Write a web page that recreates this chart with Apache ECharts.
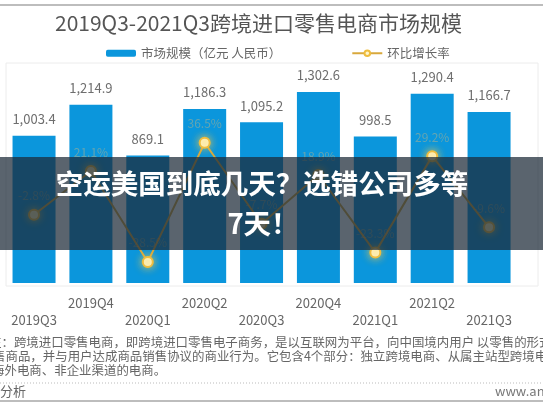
<!DOCTYPE html>
<html>
<head>
<meta charset="utf-8">
<script src="https://cdn.jsdelivr.net/npm/echarts@6/dist/echarts.min.js"></script>
<style>
html,body{margin:0;padding:0;background:#fff;}
#c{width:543px;height:408px;}
</style>
</head>
<body>
<div id="c"></div>
<script>
var categories = ['2019Q3','2019Q4','2020Q1','2020Q2','2020Q3','2020Q4','2021Q1','2021Q2','2021Q3'];
var marketSize = [1003.4, 1214.9, 869.1, 1186.3, 1095.2, 1302.6, 998.5, 1290.4, 1166.7];
var growthRate = [-2.8, 21.1, -28.5, 36.5, -7.7, 18.9, -23.3, 29.2, -9.6];
var titleText = '2019Q3-2021Q3跨境进口零售电商市场规模';
var seriesNames = ['市场规模（亿元 人民币）', '环比增长率'];
var bannerLines = ['空运美国到底几天？选错公司多等', '7天！'];
var noteLines = [
  '注：跨境进口零售电商，即跨境进口零售电子商务，是以互联网为平台，向中国境内用户 以零售的形式销',
  '售商品，并与用户达成商品销售协议的商业行为。它包含4个部分：独立跨境电商、从属主站型跨境电商',
  '海外电商、非企业渠道的电商。'
];
var sourceLeft = '易观分析';
var sourceRight = 'www.analysys.cn';

var FONT = '"Noto Sans CJK SC", "Noto Sans", sans-serif';
var chart = echarts.init(document.getElementById('c'));
chart.setOption({
  animation: false,
  textStyle: { fontFamily: FONT },
  title: {
    text: titleText, left: 50, top: 8,
    textStyle: { fontSize: 21, fontWeight: 'normal', color: '#555', fontFamily: FONT }
  },
  legend: {
    top: 42, left: 101, itemGap: 70, itemWidth: 30, itemHeight: 7,
    textStyle: { fontSize: 12.5, color: '#666', fontFamily: FONT },
    data: [seriesNames[0], seriesNames[1]]
  },
  grid: { left: 5.6, right: 25.5, top: 63, bottom: 125, containLabel: false },
  xAxis: {
    type: 'category', data: categories,
    axisLine: { show: false }, axisTick: { show: false },
    axisLabel: {
      interval: 0, margin: 12, fontSize: 13, color: '#666', lineHeight: 17,
      formatter: function (v, i) { return i % 2 === 0 ? '\n' + v : v; }
    }
  },
  yAxis: [
    { type: 'value', min: 0, max: 1500, show: false, splitLine: { show: false } },
    { type: 'value', min: -40, max: 80, show: false, splitLine: { show: false } }
  ],
  series: [
    {
      name: seriesNames[0], type: 'bar', data: marketSize, barWidth: 43,
      itemStyle: { color: '#0b96dc' },
      label: {
        show: true, position: 'top', distance: 10, fontSize: 13, color: '#6e6e6e',
        formatter: function (p) { return p.value.toLocaleString('en-US', { minimumFractionDigits: 1 }); }
      }
    },
    {
      name: seriesNames[1], type: 'line', yAxisIndex: 1, data: growthRate,
      lineStyle: { color: '#d8a83c', width: 2 },
      symbol: 'circle', symbolSize: 10,
      itemStyle: { color: '#fff6cc', borderColor: '#efbd3e', borderWidth: 2, shadowBlur: 8, shadowColor: 'rgba(245,200,70,0.9)' },
      label: {
        show: true, position: 'top', distance: 7, fontSize: 12, color: 'rgba(225,185,120,0.42)',
        formatter: function (p) { return p.value.toFixed(1) + '%'; }
      },
      z: 5
    }
  ],
  graphic: [
    { type: 'rect', shape: { x: 0, y: 4, width: 543, height: 2 }, style: { fill: '#bdbdbd' }, z: 1 },
    { type: 'rect', shape: { x: 6, y: 63, width: 532, height: 223 }, style: { fill: 'none', stroke: '#ececec', lineWidth: 1 }, z: 0 },
    { type: 'text', x: -11, y: 342, style: { text: noteLines[0], fill: '#666', font: '12.45px ' + FONT, verticalAlign: 'middle' }, z: 10 },
    { type: 'text', x: -7, y: 356, style: { text: noteLines[1], fill: '#666', font: '12.45px ' + FONT, verticalAlign: 'middle' }, z: 10 },
    { type: 'text', x: -8, y: 370, style: { text: noteLines[2], fill: '#666', font: '12.45px ' + FONT, verticalAlign: 'middle' }, z: 10 },
    { type: 'line', shape: { x1: 0, y1: 383, x2: 543, y2: 383 }, style: { stroke: '#bbb', lineWidth: 1, lineDash: [1, 2] }, z: 10 },
    { type: 'text', x: -26, y: 391, style: { text: sourceLeft, fill: '#666', font: '13px ' + FONT, verticalAlign: 'middle' }, z: 10 },
    { type: 'text', x: 495, y: 391, style: { text: sourceRight, fill: '#777', font: '13px ' + FONT, verticalAlign: 'middle' }, z: 10 },
    { type: 'rect', shape: { x: 0, y: 400, width: 543, height: 2 }, style: { fill: '#bdbdbd' }, z: 10 },
    { type: 'rect', shape: { x: 0, y: 157, width: 543, height: 93 }, style: { fill: 'rgba(28,41,55,0.725)' }, z: 100 },
    { type: 'text', x: 262, y: 184, style: { text: bannerLines[0], fill: '#fff', font: 'bold 27.5px ' + FONT, align: 'center', verticalAlign: 'middle' }, z: 101 },
    { type: 'text', x: 263, y: 224, style: { text: bannerLines[1], fill: '#fff', font: 'bold 27.5px ' + FONT, align: 'center', verticalAlign: 'middle' }, z: 101 }
  ]
});
</script>
</body>
</html>
